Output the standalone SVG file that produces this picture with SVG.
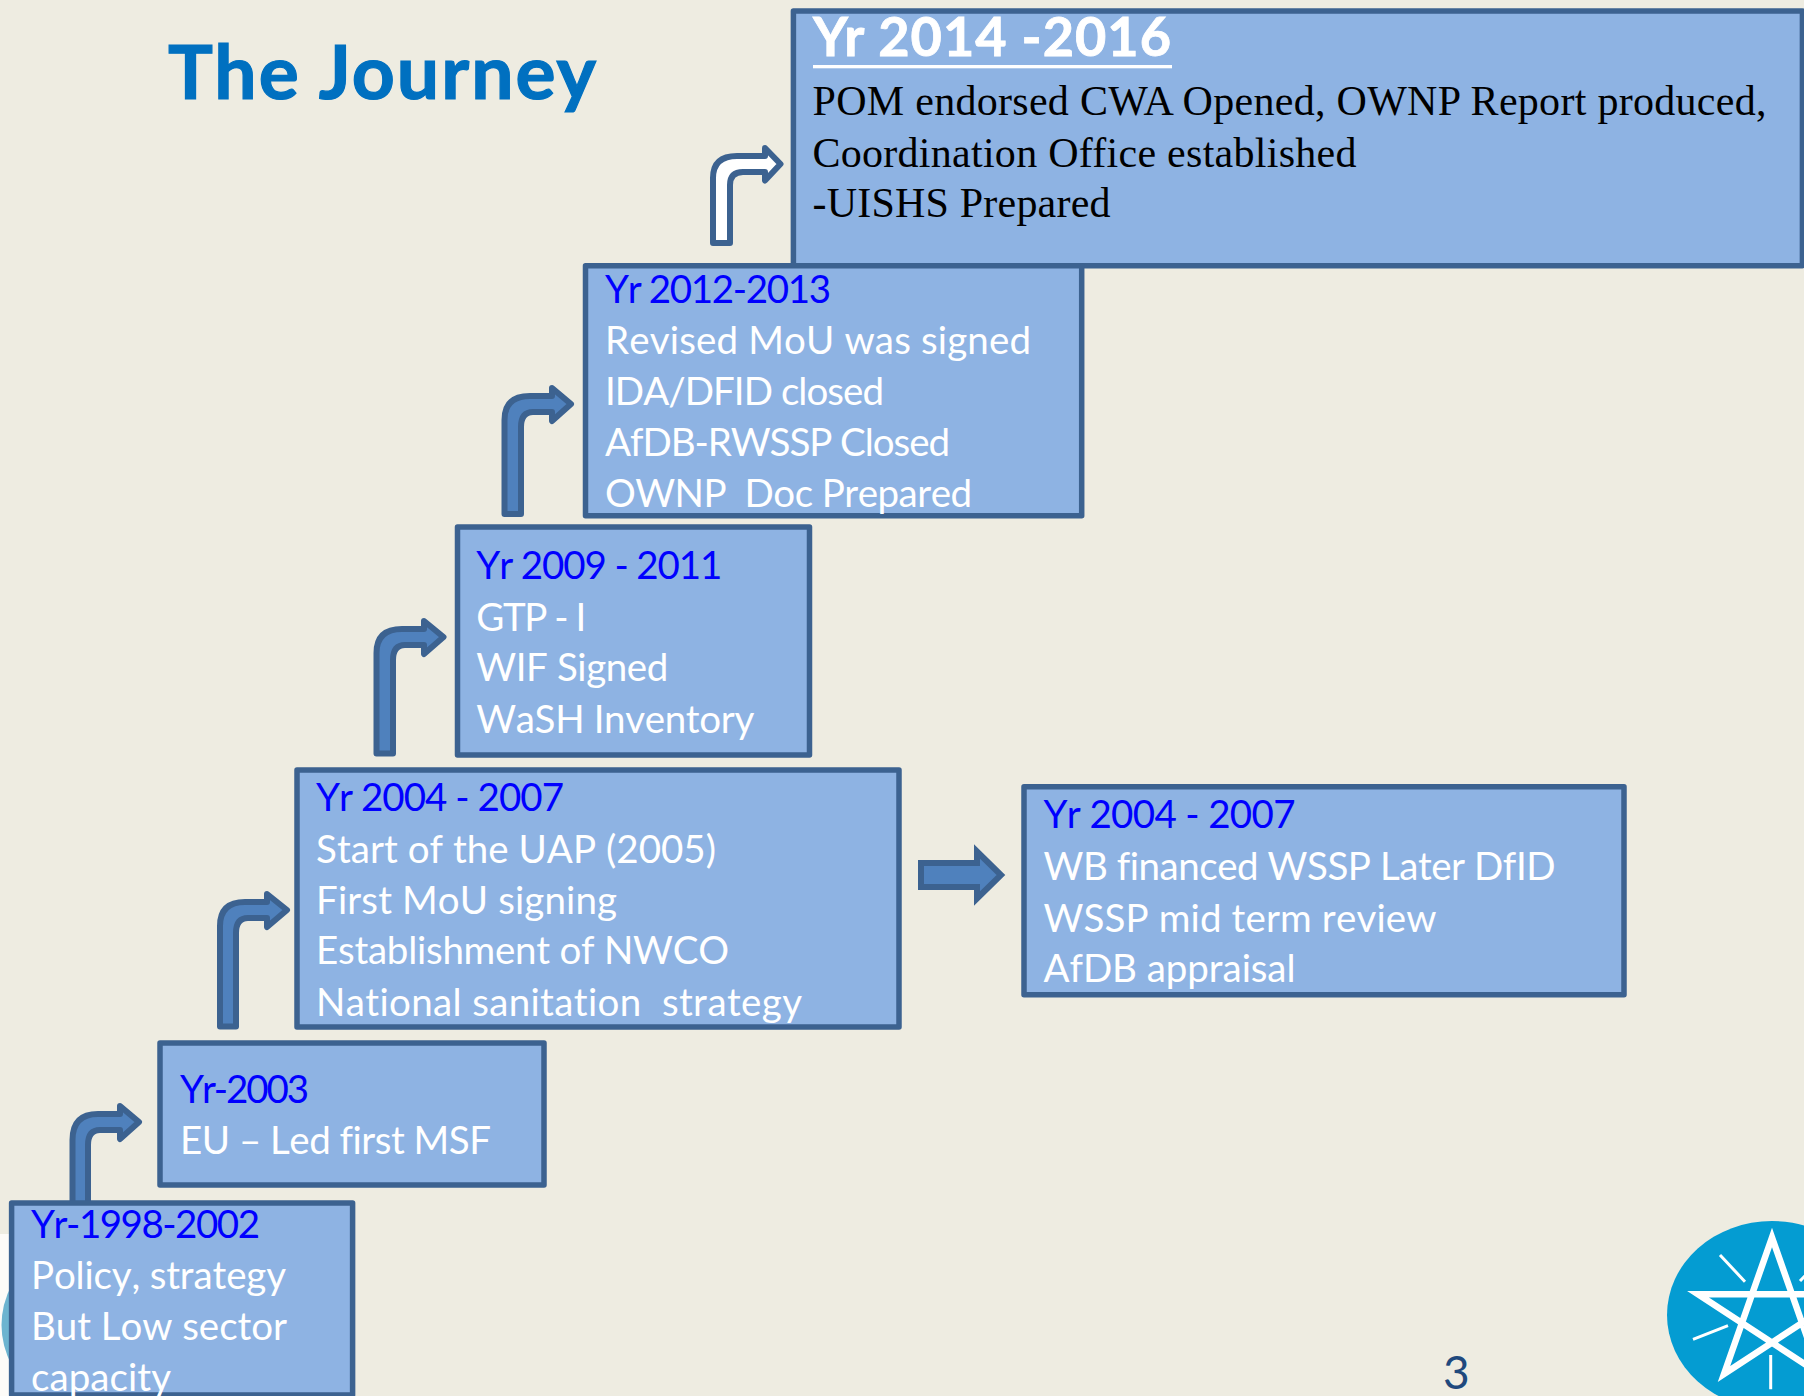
<svg xmlns="http://www.w3.org/2000/svg" width="1804" height="1396" viewBox="0 0 1804 1396">
<style>
.box{fill:#8EB3E3;stroke:#3C6290;stroke-width:5.500;stroke-linejoin:round}
.arr{fill:#4F81BD;stroke:#3C6290;stroke-width:6;stroke-linejoin:round}
.t{font-family:"Lato","Carlito","Liberation Sans",sans-serif;font-size:38.5px;fill:#fff;font-variant-ligatures:none;font-kerning:none}
.y{fill:#0000FF}
.s{font-family:"Liberation Serif","Times New Roman",serif;font-size:42px;fill:#000}
.ray{stroke:#fff;stroke-width:3;fill:none}
</style>
<rect width="1804" height="1396" fill="#EEECE1"/>
<g id="decor">
<rect x="0" y="1234" width="12" height="162" fill="#FDFBF8"/>
<path d="M12,1284Q-9,1325 12,1366Z" fill="#6DB4D0"/>
<ellipse cx="1772" cy="1315" rx="105" ry="94" fill="#049CD2"/>
<path d="M1772,1237.500L1724,1374L1846,1294.200L1698,1294.200L1820,1374Z" fill="none" stroke="#fff" stroke-width="6.500" stroke-miterlimit="10"/>
<path class="ray" d="M1720,1255L1745,1281.700M1728,1325.700L1693,1339.300M1770.700,1355V1389.300M1800,1281L1825,1255"/>
</g>
<text id="title" x="168" y="98.500" font-family="Lato,Carlito,'Liberation Sans',sans-serif" font-weight="700" font-size="75" fill="#0070C0" stroke="#0070C0" stroke-width="1.200" textLength="428">The Journey</text>
<g id="connectors">
<path class="arr" d="M72.500,1210V1140Q72.500,1114 98,1114H120V1106L139,1122L120,1139V1130H100Q88,1130 88,1145V1210Z"/>
<path class="arr" d="M220,1026.500V926Q220,902 245,902H267V894L287,910L267,927V918H248Q236,918 236,933V1026.500Z"/>
<path class="arr" d="M376.500,753.500V653Q376.500,629 402,629H424V621L443.500,637L424,654V645H405Q393,645 393,660V753.500Z"/>
<path class="arr" d="M504.500,514V420Q504.500,396 530,396H552V388L571,404L552,421V412H533Q521,412 521,427V514Z"/>
<path class="arr" style="fill:#fff" d="M713,243V178Q713,156 737,156H765V148L780.500,164L765,180.500V172H743Q730,172 730,185V243Z"/>
<path class="arr" style="stroke-linejoin:miter" d="M921,863H977V851.500L1001,875L977,898.500V887H921Z"/>
</g>
<g id="n1998">
<rect class="box" x="11.600" y="1203" width="341" height="192"/>
<text class="t y" x="31" y="1237.500" textLength="229">Yr-1998-2002</text>
<text class="t" x="31" y="1288.500" textLength="255">Policy, strategy</text>
<text class="t" x="31" y="1339.500" textLength="256">But Low sector</text>
<text class="t" x="31" y="1391" textLength="140">capacity</text>
</g>
<g id="n2003">
<rect class="box" x="160" y="1043" width="384" height="142"/>
<text class="t y" x="180" y="1102.700" textLength="129">Yr-2003</text>
<text class="t" x="180" y="1154" textLength="311">EU – Led first MSF</text>
</g>
<g id="n2004a">
<rect class="box" x="297" y="770" width="602" height="257"/>
<text class="t y" x="316" y="811" textLength="248">Yr 2004 - 2007</text>
<text class="t" x="316" y="862.800" textLength="400">Start of the UAP (2005)</text>
<text class="t" x="316" y="913.500" textLength="301">First MoU signing</text>
<text class="t" x="316" y="964" textLength="413">Establishment of NWCO</text>
<text class="t" x="316" y="1015.500" textLength="486" xml:space="preserve">National sanitation  strategy</text>
</g>
<g id="n2004b">
<rect class="box" x="1024" y="786.700" width="600" height="208"/>
<text class="t y" x="1043.500" y="828.400" textLength="252">Yr 2004 - 2007</text>
<text class="t" x="1043.500" y="880" textLength="512">WB financed WSSP Later DfID</text>
<text class="t" x="1043.500" y="931.500" textLength="393">WSSP mid term review</text>
<text class="t" x="1043.500" y="982" textLength="252">AfDB appraisal</text>
</g>
<g id="n2009">
<rect class="box" x="457.500" y="527" width="352" height="228"/>
<text class="t y" x="476.300" y="578.700" textLength="246">Yr 2009 - 2011</text>
<text class="t" x="476.300" y="630.500" textLength="110">GTP - I</text>
<text class="t" x="476.300" y="681" textLength="192">WIF Signed</text>
<text class="t" x="476.300" y="732.500" textLength="278">WaSH Inventory</text>
</g>
<g id="n2014">
<rect class="box" x="793.400" y="11" width="1009" height="254.700"/>
<text x="813" y="56" font-family="Lato,Carlito,'Liberation Sans',sans-serif" font-weight="700" font-size="54" fill="#fff" stroke="#fff" stroke-width="0.800" textLength="358">Yr 2014 -2016</text>
<rect x="813" y="65" width="359" height="3.300" fill="#fff"/>
<text class="s" x="812.500" y="115.300" textLength="954">POM endorsed CWA Opened, OWNP Report produced,</text>
<text class="s" x="812.500" y="166.500" textLength="544">Coordination Office established</text>
<text class="s" x="812.500" y="216.700" textLength="298">-UISHS Prepared</text>
</g>
<g id="n2012">
<rect class="box" x="585.500" y="265.700" width="496.200" height="250"/>
<text class="t y" x="605" y="302.600" textLength="226">Yr 2012-2013</text>
<text class="t" x="605" y="354" textLength="426">Revised MoU was signed</text>
<text class="t" x="605" y="405" textLength="279">IDA/DFID closed</text>
<text class="t" x="605" y="456.200" textLength="345">AfDB-RWSSP Closed</text>
<text class="t" x="605" y="507.400" textLength="367" xml:space="preserve">OWNP  Doc Prepared</text>
</g>
<text id="page" x="1443" y="1389" font-family="Lato,Carlito,'Liberation Sans',sans-serif" font-size="46" fill="#1F497D">3</text>
</svg>
